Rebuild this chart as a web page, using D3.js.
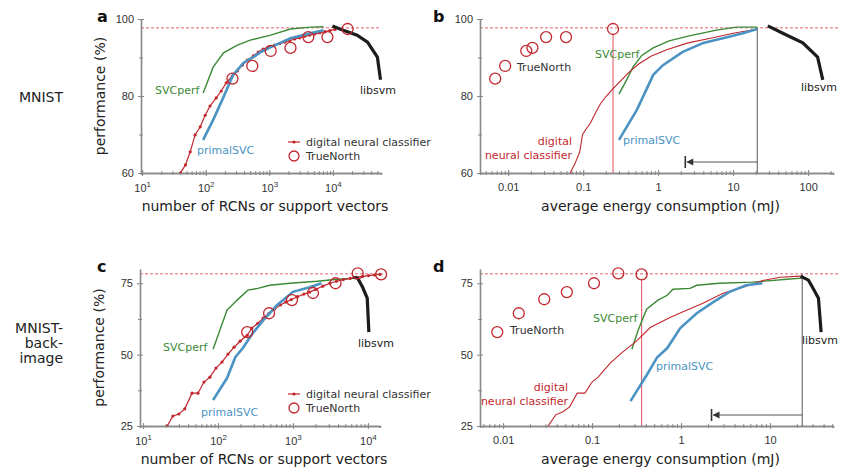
<!DOCTYPE html>
<html>
<head>
<meta charset="utf-8">
<script src="https://cdn.jsdelivr.net/npm/d3@7"></script>
<style>
  body { margin: 0; background: #fff; }
  svg { font-family: "DejaVu Sans", sans-serif; }
  .tick text { fill: #333; font-size: 11px; }
  .axis path, .axis line { stroke: #888; }
  .axis path { stroke-width: 1.6; }
  .ann { font-size: 11px; }
  .leg { font-size: 11px; }
  .title { font-size: 14px; fill: #222; }
</style>
</head>
<body>
<svg id="chart" width="841" height="472"></svg>
<script>
// ---- data ----
// MNIST, x = number of RCNs / support vectors, y = performance (%)
const dncCountMnist = [[40,60],[48,62.1],[57,65.5],[68,69.9],[82,72],[98,75],[117,77.4],[146,79.5],[175,81.3],[210,83.4],[262,85.2],[315,86.5],[375,88],[450,89.3],[560,90.4],[670,91.4],[800,92.2],[1000,92.7],[1200,93.2],[1450,93.6],[1750,94],[2100,94.4],[2500,94.8],[3000,95.1],[3600,95.5],[4300,95.8],[5200,96.1],[6200,96.4],[7500,96.7],[9000,97],[10800,97.3]];
const primalCountMnist = [[91,68.6],[131,73.8],[190,79.7],[270,85.5],[390,88.6],[560,90.1],[750,91.5],[1050,92.7],[2150,95],[4400,96.3],[7100,97.1]];
const perfCountMnist = [[91,80.8],[131,87.5],[190,91.2],[315,93.2],[500,94.5],[1050,95.8],[2150,97.4],[4400,97.9],[7100,98]];
const libsvmCountMnist = [[9800,98.2],[14500,97.1],[24000,95.8],[35000,94],[50000,90.1],[56000,84.2]];
const tnCountMnist = [[263,84.5],[540,87.8],[1050,91.7],[2150,92.5],[4100,95.3],[8200,95.3],[17000,97.4]];

// MNIST, x = average energy (mJ)
const dncEnergyMnist = [[0.067,60],[0.078,62.5],[0.09,65.5],[0.098,70],[0.11,71.5],[0.125,73],[0.145,75.5],[0.17,78],[0.2,79.8],[0.24,81.5],[0.3,83.5],[0.4,86],[0.55,88.3],[0.8,90.3],[1.3,92],[2.5,93.8],[5,95],[10,96.3],[21,97.4]];
const primalEnergyMnist = [[0.3,68.6],[0.52,76.4],[0.86,85.5],[1.16,88],[2.1,91.4],[4,93.8],[7.3,95],[13.5,96.3],[21,97.4]];
const perfEnergyMnist = [[0.3,80.5],[0.38,84.2],[0.46,87.5],[0.61,90.6],[0.86,92.5],[1.4,94.3],[2.6,95.6],[6,97.1],[11,97.9],[21,97.9]];
const libsvmEnergyMnist = [[29,98.2],[46,96.3],[85,93.8],[134,90.1],[157,84.2]];
const tnEnergyMnist = [[0.0067,84.5],[0.0091,87.8],[0.0174,91.7],[0.021,92.5],[0.032,95.3],[0.059,95.3],[0.25,97.4]];

// MNIST-back-image, x = count
const dncCountBack = [[21,25],[25,28.5],[30,29.2],[36,31],[45,36.5],[54,36.5],[65,40.4],[78,42.1],[94,45.3],[113,47.4],[136,50.2],[164,52.6],[197,54.7],[245,56.8],[283,59.3],[340,61],[400,62.8],[480,64.5],[570,66],[680,67.4],[800,68.4],[950,69.3],[1150,70.3],[1400,71.2],[1670,71.9],[2000,72.8],[2500,74],[3100,75],[3800,75.7],[4700,76.3],[5800,76.7],[7000,77.1],[8500,77.4],[10200,77.7],[12200,77.9],[14500,78.1]];
const primalCountBack = [[86,34.1],[132,41.8],[170,49.1],[215,52.3],[290,57.5],[400,62],[610,67.3],[1000,72],[1670,73.6],[2400,75]];
const perfCountBack = [[86,51.9],[106,58.6],[132,65.6],[180,69.1],[250,72.6],[340,73.2],[490,74.3],[910,75],[2100,75.7],[3900,76.4],[7200,76.8]];
const libsvmCountBack = [[6300,77.1],[7300,76.8],[8500,73.6],[9800,69.8],[10300,57.9]];
const tnCountBack = [[245,57.9],[480,64.5],[970,69.1],[1850,71.6],[3700,75],[7300,78.5],[15000,78.1]];

// MNIST-back-image, x = energy
const dncEnergyBack = [[0.032,25],[0.039,28.9],[0.047,30],[0.056,31.7],[0.068,36.5],[0.083,36.5],[0.1,40.4],[0.117,42.1],[0.16,47],[0.22,50.9],[0.32,54.9],[0.45,59.5],[0.75,63],[1.17,65.6],[1.76,68],[3,71.6],[5,73.6],[8.3,76],[13,77.1],[22,77.5]];
const primalEnergyBack = [[0.27,33.7],[0.41,42.8],[0.54,49.1],[0.7,52.3],[0.98,59.3],[1.5,64.5],[2.3,68.4],[3.5,72],[5.4,74.3],[8.2,75]];
const perfEnergyBack = [[0.28,51.9],[0.33,58.6],[0.41,65.9],[0.55,69.1],[0.7,70.8],[0.81,72.9],[1.26,73.2],[1.5,74.3],[2.7,75],[6.4,75.4],[15.4,76.4],[23,76.8]];
const libsvmEnergyBack = [[22,77.5],[27,76.1],[30,73.6],[35,69.8],[37.5,57.9]];
const tnEnergyBack = [[0.0086,57.9],[0.015,64.5],[0.029,69.4],[0.052,71.9],[0.105,75],[0.197,78.5],[0.36,78.1]];

const refMnist = 97.7, refBack = 78.3;
const yTicksMnist = [60, 80, 100], yMinorMnist = [70, 90];
const yTicksBack = [25, 50, 75], yMinorBack = [37.5, 62.5];
const countTicks = [10, 100, 1000, 10000];
const energyTicks = [0.01, 0.1, 1, 10, 100];
const energyLabels = ["0.01", "0.1", "1", "10", "100"];
// energy markers: TrueNorth best, libsvm best, arrow end
const markMnist = [0.25, 21, 2.3], markBack = [0.36, 23, 2.2];

const RED = "#c1272d", GREEN = "#3b8a35", BLUE = "#4a93c3", BLACK = "#1c1c1c";

const svg = d3.select("#chart");

function minorLog(domain) {
  var out = [];
  var lo = Math.floor(Math.log10(domain[0])), hi = Math.ceil(Math.log10(domain[1]));
  for (var e = lo; e <= hi; e++) {
    for (var m = 1; m < 10; m++) {
      var v = m * Math.pow(10, e);
      if (v >= domain[0] && v <= domain[1]) out.push(v);
    }
  }
  return out;
}

function panel(o) {
  const g = svg.append("g");
  const x = d3.scaleLog().domain(o.xDomain).range(o.xRange);
  const y = d3.scaleLinear().domain(o.yDomain).range(o.yRange);
  const line = d3.line().x(d => x(d[0])).y(d => y(d[1]));

  // reference dashed line
  g.append("line")
    .attr("x1", o.xRange[0]).attr("x2", o.refEnd)
    .attr("y1", y(o.ref)).attr("y2", y(o.ref))
    .attr("stroke", "#e0505e").attr("stroke-width", 0.9)
    .attr("stroke-dasharray", "3,2");

  // x axis: minor then major
  const xMinor = g.append("g").attr("class", "axis")
    .attr("transform", "translate(0," + o.yRange[0] + ")")
    .call(d3.axisBottom(x).tickValues(minorLog(o.xDomain)).tickSize(2).tickFormat(""));
  xMinor.selectAll(".tick line").attr("y1", -2).attr("y2", 2);
  const xMajor = g.append("g").attr("class", "axis")
    .attr("transform", "translate(0," + o.yRange[0] + ")")
    .call(d3.axisBottom(x).tickValues(o.xTicks).tickSize(3).tickPadding(7).tickSizeOuter(0)
      .tickFormat(o.superscript ? "" : (d, i) => o.xLabels[i]));
  xMajor.selectAll(".tick line").attr("y1", -3).attr("y2", 3);
  if (o.superscript) {
    xMajor.selectAll(".tick").append("text")
      .attr("y", 19).attr("text-anchor", "middle")
      .each(function(d) {
        const t = d3.select(this);
        t.append("tspan").text("10");
        t.append("tspan").attr("dy", -5).attr("font-size", "8px").text(Math.round(Math.log10(d)));
      });
  }

  // y axis
  const yMinor = g.append("g").attr("class", "axis")
    .attr("transform", "translate(" + o.xRange[0] + ",0)")
    .call(d3.axisLeft(y).tickValues(o.yMinor).tickSize(2).tickFormat(""));
  yMinor.select(".domain").remove();
  yMinor.selectAll(".tick line").attr("x1", -2).attr("x2", 2);
  const yMajor = g.append("g").attr("class", "axis")
    .attr("transform", "translate(" + o.xRange[0] + ",0)")
    .call(d3.axisLeft(y).tickValues(o.yTicks).tickSize(3).tickPadding(4).tickSizeOuter(0));
  yMajor.selectAll(".tick line").attr("x1", -3).attr("x2", 3);

  // annotations for energy panels
  if (o.marks) {
    const yb = o.yRange[0];
    g.append("line")
      .attr("x1", x(o.marks[0])).attr("x2", x(o.marks[0]))
      .attr("y1", y(o.tn[o.tn.length - 1][1]) + 5).attr("y2", yb)
      .attr("stroke", "#e06068").attr("stroke-width", 1.1);
    g.append("line")
      .attr("x1", x(o.marks[1])).attr("x2", x(o.marks[1]))
      .attr("y1", y(o.ref)).attr("y2", yb)
      .attr("stroke", "#666").attr("stroke-width", 1.1);
    const ya = yb - 11;
    g.append("line")
      .attr("x1", x(o.marks[1])).attr("x2", x(o.marks[2]) + 2)
      .attr("y1", ya).attr("y2", ya)
      .attr("stroke", "#555").attr("stroke-width", 1.1);
    const xa = x(o.marks[2]);
    g.append("path")
      .attr("d", "M" + (xa + 1) + "," + ya + "l7,-3.5l0,7z")
      .attr("fill", "#333");
    g.append("line")
      .attr("x1", xa).attr("x2", xa).attr("y1", ya - 6).attr("y2", ya + 6)
      .attr("stroke", "#333").attr("stroke-width", 1.6);
  }

  // curves
  const clipId = "clip" + o.name;
  g.append("clipPath").attr("id", clipId).append("rect")
    .attr("x", o.xRange[0]).attr("y", o.yRange[1] - 10)
    .attr("width", o.xRange[1] - o.xRange[0] + 10)
    .attr("height", o.yRange[0] - o.yRange[1] + 10);
  const c = g.append("g").attr("clip-path", "url(#" + clipId + ")");

  c.append("path").datum(o.perf).attr("d", line)
    .attr("fill", "none").attr("stroke", GREEN).attr("stroke-width", 1.4);
  c.append("path").datum(o.dnc).attr("d", line)
    .attr("fill", "none").attr("stroke", RED).attr("stroke-width", o.dots ? 1.2 : 1.1);
  if (o.dots) {
    c.selectAll(".dot").data(o.dnc).enter().append("circle")
      .attr("cx", d => x(d[0])).attr("cy", d => y(d[1])).attr("r", 1.6)
      .attr("fill", RED);
  }
  c.append("path").datum(o.primal).attr("d", line)
    .attr("fill", "none").attr("stroke", BLUE).attr("stroke-width", 2.6);
  g.append("path").datum(o.libsvm).attr("d", line)
    .attr("fill", "none").attr("stroke", BLACK).attr("stroke-width", 3.2);
  g.selectAll(".tn").data(o.tn).enter().append("circle")
    .attr("cx", d => x(d[0])).attr("cy", d => y(d[1])).attr("r", 5.5)
    .attr("fill", "none").attr("stroke", RED).attr("stroke-width", 1.3);

  // curve labels
  o.labels.forEach(function(l) {
    const t = g.append("text").attr("class", "ann")
      .attr("x", l.x).attr("y", l.y).attr("fill", l.color)
      .attr("text-anchor", l.anchor || "start");
    l.text.split("\n").forEach(function(s, i) {
      t.append("tspan").attr("x", l.x).attr("dy", i ? 14 : 0).text(s);
    });
  });

  // legend
  if (o.legend) {
    const lx = o.legend[0], ly = o.legend[1];
    g.append("line").attr("x1", lx - 6).attr("x2", lx + 6).attr("y1", ly).attr("y2", ly)
      .attr("stroke", RED).attr("stroke-width", 1.2);
    g.append("circle").attr("cx", lx).attr("cy", ly).attr("r", 1.6).attr("fill", RED);
    g.append("text").attr("class", "leg").attr("x", lx + 12).attr("y", ly + 4)
      .attr("fill", "#333").text("digital neural classifier");
    g.append("circle").attr("cx", lx).attr("cy", ly + 14).attr("r", 5)
      .attr("fill", "none").attr("stroke", RED).attr("stroke-width", 1.3);
    g.append("text").attr("class", "leg").attr("x", lx + 12).attr("y", ly + 18)
      .attr("fill", "#333").text("TrueNorth");
  }

  // titles
  g.append("text").attr("class", "title")
    .attr("x", (o.xRange[0] + o.xRange[1]) / 2 + 4).attr("y", o.yRange[0] + 38)
    .attr("text-anchor", "middle").text(o.xTitle);
  if (o.yTitle) {
    g.append("text").attr("class", "title")
      .attr("transform", "translate(" + (o.xRange[0] - 36) + "," + (o.yRange[0] + o.yRange[1]) / 2 + ") rotate(-90)")
      .attr("text-anchor", "middle").text(o.yTitle);
  }
  g.append("text").attr("x", o.letter[0]).attr("y", o.letter[1])
    .attr("font-size", "16px").attr("font-weight", "bold").attr("fill", "#111")
    .text(o.name);
}

panel({
  name: "a", letter: [97, 22],
  xDomain: [9.6, 5.7e4], xRange: [141, 381], yDomain: [60, 100], yRange: [173, 19],
  xTicks: countTicks, superscript: true, yTicks: yTicksMnist, yMinor: yMinorMnist,
  ref: refMnist, refEnd: 381, dots: true,
  dnc: dncCountMnist, primal: primalCountMnist, perf: perfCountMnist, libsvm: libsvmCountMnist, tn: tnCountMnist,
  legend: [294, 142],
  labels: [
    { text: "SVCperf", x: 155, y: 94, color: GREEN },
    { text: "primalSVC", x: 197, y: 154, color: BLUE },
    { text: "libsvm", x: 360, y: 94, color: "#222" }
  ],
  xTitle: "number of RCNs or support vectors", yTitle: "performance (%)"
});

panel({
  name: "b", letter: [433, 22],
  xDomain: [0.0042, 215], xRange: [480, 833], yDomain: [60, 100], yRange: [173, 19],
  xTicks: energyTicks, xLabels: energyLabels, yTicks: yTicksMnist, yMinor: yMinorMnist,
  ref: refMnist, refEnd: 840, marks: markMnist,
  dnc: dncEnergyMnist, primal: primalEnergyMnist, perf: perfEnergyMnist, libsvm: libsvmEnergyMnist, tn: tnEnergyMnist,
  labels: [
    { text: "TrueNorth", x: 517, y: 71, color: "#333" },
    { text: "SVCperf", x: 595, y: 58, color: GREEN },
    { text: "primalSVC", x: 623, y: 144, color: BLUE },
    { text: "digital\nneural classifier", x: 572, y: 145, color: RED, anchor: "end" },
    { text: "libsvm", x: 801, y: 91, color: "#222" }
  ],
  xTitle: "average energy consumption (mJ)"
});

panel({
  name: "c", letter: [97, 272],
  xDomain: [9.1, 1.45e4], xRange: [140, 380], yDomain: [25, 80], yRange: [426, 269],
  xTicks: countTicks, superscript: true, yTicks: yTicksBack, yMinor: yMinorBack,
  ref: refBack, refEnd: 384, dots: true,
  dnc: dncCountBack, primal: primalCountBack, perf: perfCountBack, libsvm: libsvmCountBack, tn: tnCountBack,
  legend: [294, 394],
  labels: [
    { text: "SVCperf", x: 163, y: 351, color: GREEN },
    { text: "primalSVC", x: 201, y: 416, color: BLUE },
    { text: "libsvm", x: 358, y: 347, color: "#222" }
  ],
  xTitle: "number of RCNs or support vectors", yTitle: "performance (%)"
});

panel({
  name: "d", letter: [433, 272],
  xDomain: [0.0055, 51], xRange: [480, 833], yDomain: [25, 80], yRange: [426, 269],
  xTicks: energyTicks.slice(0, 4), xLabels: energyLabels, yTicks: yTicksBack, yMinor: yMinorBack,
  ref: refBack, refEnd: 840, marks: markBack,
  dnc: dncEnergyBack, primal: primalEnergyBack, perf: perfEnergyBack, libsvm: libsvmEnergyBack, tn: tnEnergyBack,
  labels: [
    { text: "TrueNorth", x: 510, y: 334, color: "#333" },
    { text: "SVCperf", x: 593, y: 322, color: GREEN },
    { text: "primalSVC", x: 656, y: 370, color: BLUE },
    { text: "digital\nneural classifier", x: 568, y: 391, color: RED, anchor: "end" },
    { text: "libsvm", x: 802, y: 344, color: "#222" }
  ],
  xTitle: "average energy consumption (mJ)"
});

// row labels
svg.append("text").attr("class", "title").attr("x", 63).attr("y", 102)
  .attr("text-anchor", "end").text("MNIST");
const rowB = svg.append("text").attr("class", "title").attr("text-anchor", "end");
["MNIST-", "back-", "image"].forEach(function(s, i) {
  rowB.append("tspan").attr("x", 63).attr("y", 333 + i * 15).text(s);
});
</script>
</body>
</html>
